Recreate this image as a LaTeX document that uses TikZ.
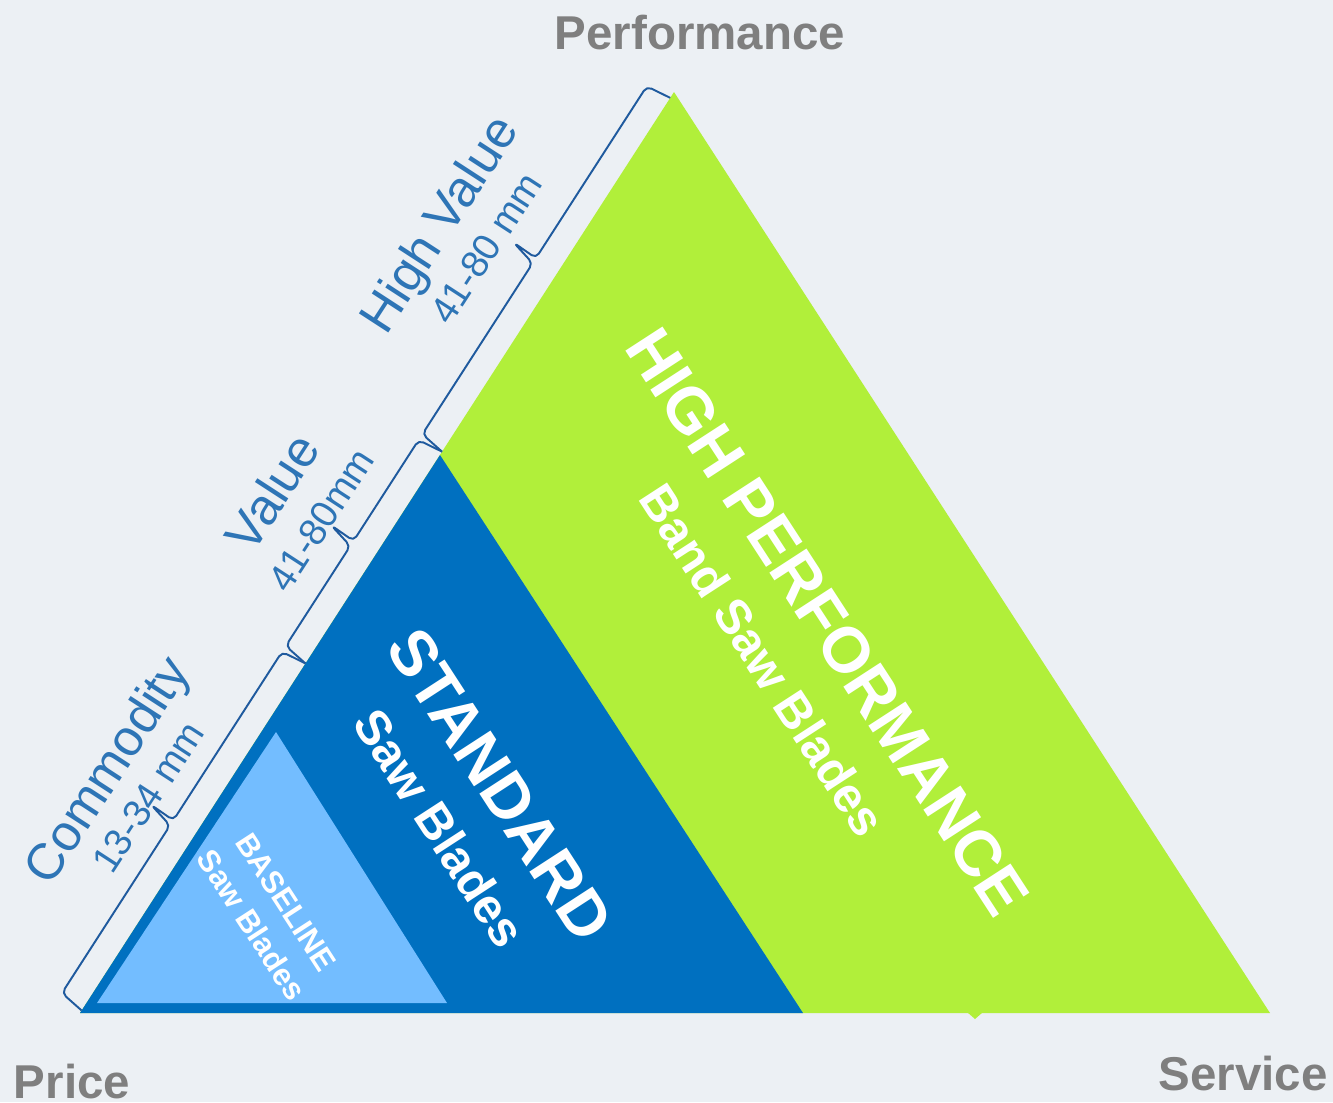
\documentclass[tikz,border=0pt]{standalone}
\usepackage{fontspec}
\setmainfont{Liberation Sans}
\usepackage{xcolor}
\usepackage{tikz}
\usetikzlibrary{calc}

\definecolor{bgcol}{HTML}{ECF0F4}
\definecolor{limegreen}{HTML}{B1EF3A}
\definecolor{stdblue}{HTML}{0070C0}
\definecolor{baseblue}{HTML}{73BDFF}
\definecolor{rangeblue}{HTML}{2E75B6}
\definecolor{braceblue}{HTML}{1F5A9E}
\definecolor{axisgrey}{HTML}{7F7F7F}

\tikzset{
    axislabel/.style={inner sep=0pt, text=axisgrey, font=\fontsize{13.5}{16}\selectfont\bfseries},
    rangelabel/.style={inner sep=0pt, text=rangeblue, rotate=57, font=\fontsize{14.5}{17}\selectfont},
    rangesub/.style={inner sep=0pt, text=rangeblue, rotate=57, font=\fontsize{10.8}{13}\selectfont},
    bigtitle/.style={inner sep=0pt, text=white, rotate=-57, font=\fontsize{18.3}{22}\selectfont\bfseries},
    subtitle/.style={inner sep=0pt, text=white, rotate=-57, font=\fontsize{13.9}{17}\selectfont\bfseries},
    smalltitle/.style={inner sep=0pt, text=white, rotate=-57, font=\fontsize{8.8}{11}\selectfont\bfseries},
    bracket/.style={draw=braceblue, line width=0.55pt, rounded corners=1.5pt, line join=round}
}

\begin{document}
\begin{tikzpicture}[x=0.01cm, y=-0.01cm]
        \useasboundingbox[fill=bgcol] (0,0) rectangle (1333,1102);

        \coordinate (L) at (80,1013);
        \coordinate (T) at (674,92);
        \coordinate (R) at (1270,1013);
        \coordinate (S) at (440,455);
        \coordinate (M) at (803,1013);
        \coordinate (B1) at (97,1003);
        \coordinate (B2) at (276,732);
        \coordinate (B3) at (447,1003);

        % triangles
        \fill[limegreen] (L) -- (T) -- (R) -- cycle;
        \fill[limegreen] (967,1012) -- (975,1019) -- (983,1012) -- cycle;
        \fill[stdblue] (L) -- (S) -- (M) -- cycle;
        \fill[baseblue] (B1) -- (B2) -- (B3) -- cycle;

        % brackets along the left edge (measured along the edge from L)
        \begin{scope}[shift={(L)}, rotate=57.18]
            \foreach \a/\b in {3/416, 416/668, 668/1089} {
                \draw[bracket] (\a,0) -- (\a+4,-26) -- ({(\a+\b)/2-3},-26)
                    -- ({(\a+\b)/2+4},-53) -- ({(\a+\b)/2+3},-26)
                    -- (\b-3,-26) -- (\b,0);
            }
        \end{scope}

        \node[rangelabel] (commodity) at (110,772) {Commodity};
        \node[rangesub] (commoditymm) at (148,797) {13-34 mm};
        \node[rangelabel] (value) at (272,492) {Value};
        \node[rangesub] (valuemm) at (321,520) {41-80mm};
        \node[rangelabel] (highvalue) at (442,226) {High Value};
        \node[rangesub] (highvaluemm) at (486,248) {41-80 mm};

        % blade groups
        \node[bigtitle] (hp) at (828,622) {HIGH PERFORMANCE};
        \node[subtitle] (hpsub) at (763,660) {Band Saw Blades};
        \node[bigtitle] (std) at (500,785) {STANDARD};
        \node[subtitle] (stdsub) at (440,828) {Saw Blades};
        \node[smalltitle] (base) at (286,902) {BASELINE};
        \node[smalltitle] (basesub) at (252,925) {Saw Blades};

        % corners
        \node[axislabel] (perf) at (700,33) {Performance};
        \node[axislabel] (price) at (72,1082) {Price};
        \node[axislabel] (service) at (1243,1074) {Service};

    \end{tikzpicture}
\end{document}
